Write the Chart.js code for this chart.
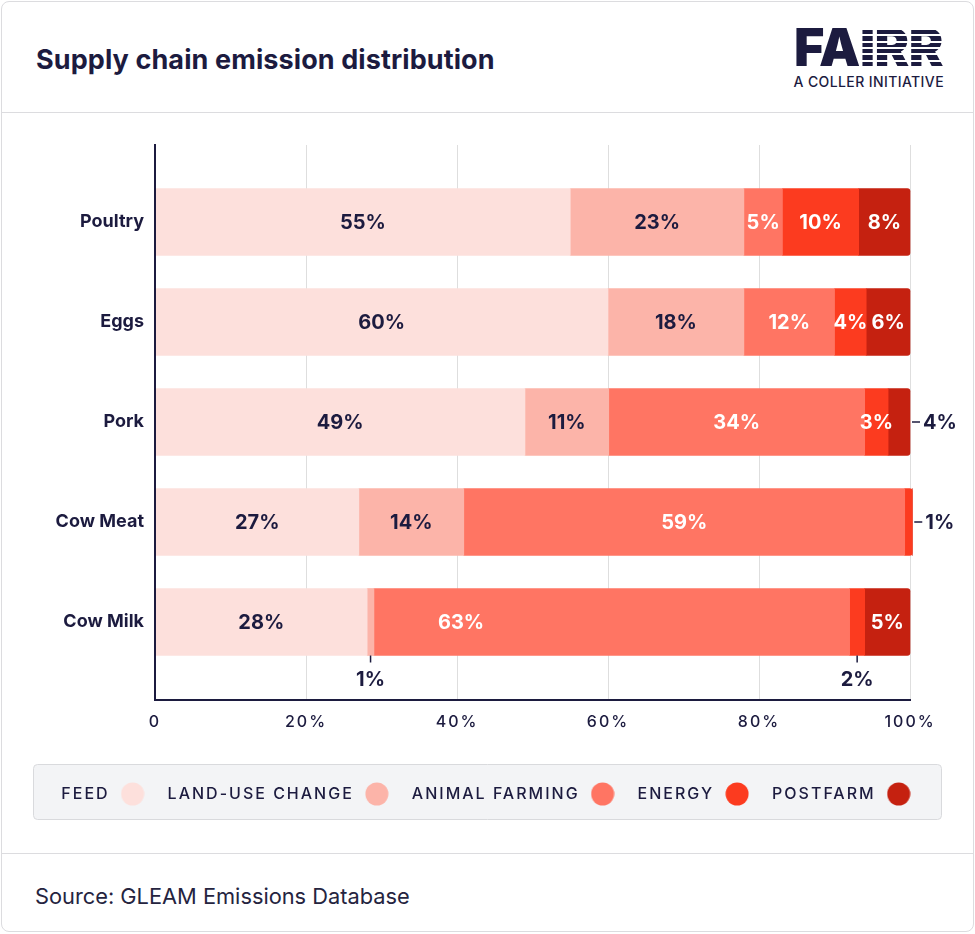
<!DOCTYPE html>
<html>
<head>
<meta charset="utf-8">
<script src="https://cdn.jsdelivr.net/npm/chart.js@4.4.1/dist/chart.umd.min.js"></script>
<style>
  html, body { margin: 0; padding: 0; background: #fff; width: 975px; height: 934px; overflow: hidden; font-family: Inter, sans-serif; color: #1c1b3f; }
  .card { position: absolute; left: 1px; top: 1px; width: 971px; height: 929px; border: 1px solid #dcdcdf; border-radius: 8px; }
  .sep { position: absolute; left: 2px; width: 971px; height: 1px; background: #dcdcdf; }
  #title { position: absolute; left: 36px; top: 44px; font-size: 27px; font-weight: 700; line-height: 32px; letter-spacing: 0.1px; white-space: nowrap; }
  .fairr { position: absolute; right: 32px; top: 22px; font-size: 52px; font-weight: 900; line-height: 52px; letter-spacing: -0.5px; white-space: nowrap; }
  .fairr .stripe { color: transparent; background: repeating-linear-gradient(180deg, #1c1b3f 0px, #1c1b3f 4.4px, #ffffff 4.4px, #ffffff 6.4px); background-position: 0 1px; -webkit-background-clip: text; background-clip: text; }
  .coller { position: absolute; right: 31px; top: 74px; font-size: 14px; font-weight: 500; line-height: 16px; letter-spacing: 0.4px; white-space: nowrap; }
  #source { position: absolute; left: 35px; top: 882px; font-size: 21.8px; font-weight: 400; line-height: 28px; color: #25243f; white-space: nowrap; }
  #wrap { position: absolute; left: 0; top: 114px; width: 975px; height: 739px; }
</style>
</head>
<body>
<div class="card"></div>
<div class="sep" style="top:112px"></div>
<div class="sep" style="top:853px"></div>
<div id="title">Supply chain emission distribution</div>
<div class="fairr">FA<span class="stripe">IRR</span></div>
<div class="coller">A COLLER INITIATIVE</div>
<div id="wrap"><canvas id="chart" width="975" height="739"></canvas></div>
<div id="source">Source: GLEAM Emissions Database</div>
<script>
// ---- data ----
const categories = ['Poultry', 'Eggs', 'Pork', 'Cow Meat', 'Cow Milk'];
const seriesNames = ['FEED', 'LAND-USE CHANGE', 'ANIMAL FARMING', 'ENERGY', 'POSTFARM'];
const feed          = [55,   60,   49,   27,   28.1];
const landUse       = [23,   18,   11.1, 13.9, 0.9];
const animalFarming = [5.1,  12,   33.9, 58.4, 63];
const energy        = [10.1, 4.2,  3.1,  1.0,  2];
const postfarm      = [6.8,  5.8,  2.9,  0,    6];
const feedLabels          = ['55%', '60%', '49%', '27%', '28%'];
const landUseLabels       = ['23%', '18%', '11%', '14%', '1%'];
const animalFarmingLabels = ['5%',  '12%', '34%', '59%', '63%'];
const energyLabels        = ['10%', '4%',  '3%',  '1%',  '2%'];
const postfarmLabels      = ['8%',  '6%',  '4%',  '',    '5%'];
const xTicks = [0, 20, 40, 60, 80, 100];

// ---- styling ----
const DARK = '#1c1b3f';
const colors = ['#fde0dc', '#fcb4a9', '#ff7563', '#fc3b1f', '#c52110'];
const seriesValues = [feed, landUse, animalFarming, energy, postfarm];
const labelSets = [feedLabels, landUseLabels, animalFarmingLabels, energyLabels, postfarmLabels];
// where a segment label goes when it does not sit in the middle of its segment
const labelPlacement = {
  'Pork|4': 'right',
  'Cow Meat|3': 'right',
  'Cow Milk|1': 'below',
  'Cow Milk|3': 'below',
  'Cow Milk|2': 'nearStart'
};

function makeDot(color) {
  const c = document.createElement('canvas');
  c.width = 24; c.height = 24;
  const g = c.getContext('2d');
  g.fillStyle = color;
  g.beginPath(); g.arc(12, 12, 11.5, 0, Math.PI * 2); g.fill();
  return c;
}
const dots = colors.map(makeDot);

const spacingPlugin = {
  id: 'spacing',
  beforeLayout(chart) { chart.ctx.letterSpacing = '2px'; },
  beforeDraw(chart) {
    const ctx = chart.ctx;
    ctx.letterSpacing = '2px';
    const lg = chart.legend;
    if (lg) {
      const top = lg.top - 2, h = 55, left = 33, w = 908;
      ctx.save();
      ctx.fillStyle = '#f3f4f6';
      ctx.strokeStyle = '#d9dadd';
      ctx.lineWidth = 1;
      ctx.beginPath();
      ctx.roundRect(left + 0.5, top + 0.5, w, h, 4);
      ctx.fill(); ctx.stroke();
      ctx.restore();
    }
  }
};

const segmentLabels = {
  id: 'segmentLabels',
  afterDatasetsDraw(chart) {
    const ctx = chart.ctx;
    ctx.save();
    ctx.letterSpacing = '0px';
    ctx.font = '700 20px Inter';
    ctx.textBaseline = 'middle';
    chart.data.datasets.forEach((ds, k) => {
      const meta = chart.getDatasetMeta(k);
      meta.data.forEach((bar, i) => {
        const text = labelSets[k][i];
        if (!text) return;
        const p = bar.getProps(['x', 'base', 'y', 'height'], true);
        const start = Math.min(p.x, p.base), end = Math.max(p.x, p.base);
        const cx = (start + end) / 2;
        const bottom = p.y + p.height / 2;
        const mode = labelPlacement[categories[i] + '|' + k] || 'center';
        const inner = k < 2 ? DARK : '#ffffff';
        if (mode === 'center') {
          ctx.fillStyle = inner; ctx.textAlign = 'center';
          ctx.fillText(text, cx, p.y + 1);
        } else if (mode === 'nearStart') {
          ctx.fillStyle = inner; ctx.textAlign = 'left';
          ctx.fillText(text, start + 64, p.y + 1);
        } else if (mode === 'right') {
          ctx.strokeStyle = DARK; ctx.lineWidth = 1.5;
          ctx.beginPath(); ctx.moveTo(end + 2, p.y); ctx.lineTo(end + 10, p.y); ctx.stroke();
          ctx.fillStyle = DARK; ctx.textAlign = 'left';
          ctx.fillText(text, end + 13, p.y + 1);
        } else if (mode === 'below') {
          ctx.strokeStyle = DARK; ctx.lineWidth = 1.5;
          ctx.beginPath(); ctx.moveTo(cx, bottom); ctx.lineTo(cx, bottom + 7); ctx.stroke();
          ctx.fillStyle = DARK; ctx.textAlign = 'center';
          ctx.fillText(text, cx, bottom + 24);
        }
      });
    });
    ctx.restore();
    ctx.letterSpacing = '0px';
  }
};

const datasets = seriesNames.map((name, k) => ({
  label: name,
  data: seriesValues[k].map((v, i) => ({ x: v, y: i })),
  backgroundColor: colors[k],
  borderWidth: 0,
  borderRadius: 3,
  borderSkipped: 'start',
  barThickness: 67,
  clip: false
}));

new Chart(document.getElementById('chart'), {
  type: 'bar',
  data: { datasets },
  plugins: [spacingPlugin, segmentLabels],
  options: {
    indexAxis: 'y',
    responsive: false,
    animation: false,
    events: [],
    layout: { padding: { top: 31, right: 33, bottom: 41, left: 33 } },
    scales: {
      x: {
        type: 'linear', position: 'bottom', min: 0, max: 100, stacked: true, offset: false,
        afterBuildTicks: s => { s.ticks = xTicks.map(v => ({ value: v })); },
        afterFit: s => { s.height = 66; s.paddingRight = 65; },
        grid: { color: '#dedede', lineWidth: 1, drawTicks: false },
        border: { display: true, color: DARK, width: 2 },
        ticks: {
          padding: 13, color: DARK, autoSkip: false, maxRotation: 0,
          font: { family: 'Inter', size: 16, weight: 500 },
          callback: v => (v === 0 ? '0' : v + '%')
        }
      },
      y: {
        type: 'linear', min: -0.77, max: 4.78, reverse: true, stacked: true, offset: false,
        afterBuildTicks: s => { s.ticks = categories.map((c, i) => ({ value: i })); },
        afterFit: s => { s.width = 122; },
        grid: { display: false, drawTicks: false },
        border: { display: true, color: DARK, width: 2, z: 1 },
        ticks: {
          z: 1, padding: 11, color: DARK, autoSkip: false,
          font: { family: 'Inter', size: 18, weight: 700 },
          callback: v => categories[v]
        }
      }
    },
    plugins: {
      tooltip: { enabled: false },
      legend: {
        position: 'bottom', align: 'center', rtl: true, reverse: true, textDirection: 'ltr',
        labels: {
          usePointStyle: true, pointStyleWidth: 30, boxHeight: 16, padding: 20,
          color: DARK, font: { family: 'Inter', size: 16, weight: 500 },
          generateLabels(chart) {
            const items = Chart.defaults.plugins.legend.labels.generateLabels(chart);
            items.forEach(it => { it.pointStyle = dots[it.datasetIndex]; });
            return items;
          }
        }
      }
    }
  }
});
</script>
</body>
</html>
